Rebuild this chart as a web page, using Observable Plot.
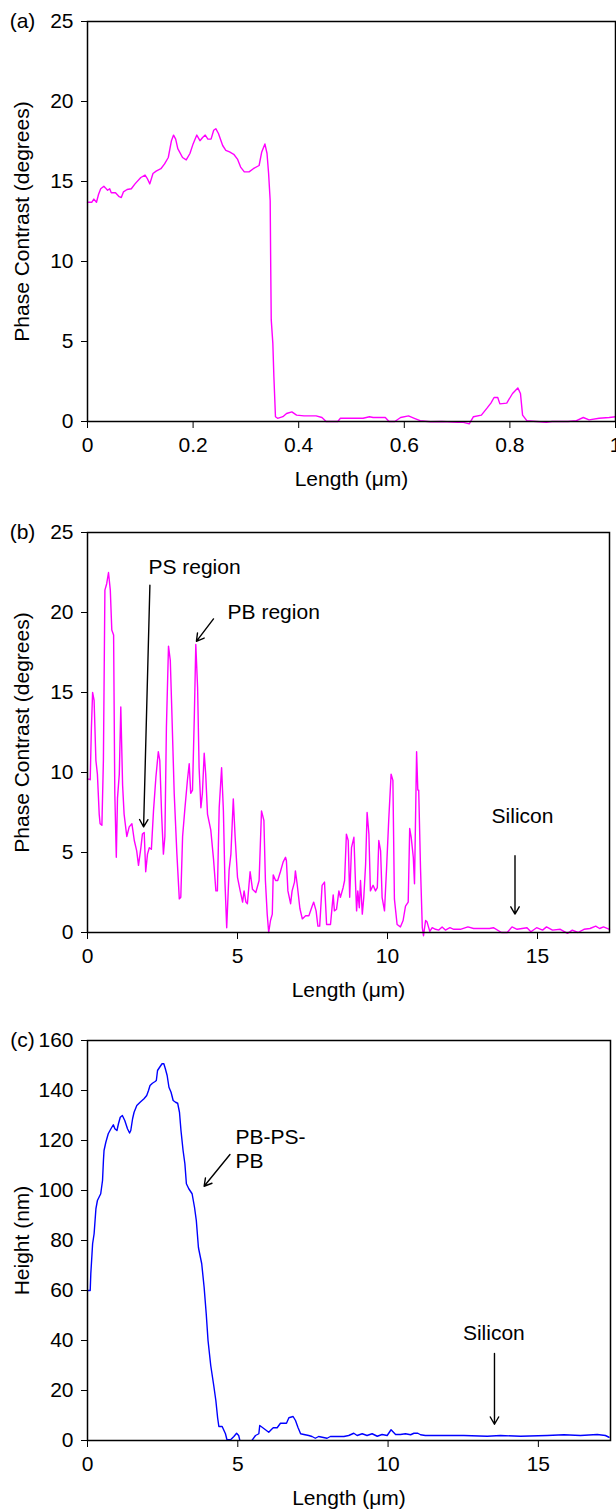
<!DOCTYPE html>
<html><head><meta charset="utf-8">
<script src="https://cdn.jsdelivr.net/npm/d3@7"></script>
<script src="https://cdn.jsdelivr.net/npm/@observablehq/plot@0.6"></script>
<style>body{margin:0;background:#fff} #fig svg{display:block}</style>
</head><body><div id="fig"></div>
<script>
// ---------- Panel (a): phase contrast vs length ----------
const aLength = [0,0.008,0.012,0.017,0.021,0.025,0.031,0.034,0.038,0.042,0.045,0.053,0.06,0.064,0.068,0.075,0.083,0.09,0.101,0.109,0.113,0.118,0.124,0.13,0.139,0.146,0.153,0.159,0.163,0.167,0.171,0.18,0.187,0.194,0.2,0.207,0.213,0.218,0.223,0.228,0.234,0.239,0.243,0.248,0.256,0.262,0.269,0.277,0.284,0.29,0.297,0.306,0.314,0.325,0.33,0.336,0.34,0.343,0.346,0.347,0.348,0.351,0.353,0.356,0.36,0.37,0.377,0.387,0.396,0.41,0.433,0.444,0.452,0.474,0.479,0.522,0.534,0.541,0.564,0.571,0.582,0.593,0.608,0.619,0.63,0.649,0.671,0.701,0.712,0.723,0.731,0.746,0.757,0.764,0.77,0.777,0.781,0.794,0.805,0.815,0.82,0.824,0.832,0.85,0.869,0.88,0.91,0.926,0.939,0.95,0.969,0.988,1.0];
const aPhase = [13.7,13.7,13.9,13.7,14.2,14.55,14.7,14.6,14.45,14.55,14.3,14.3,14.05,14.0,14.35,14.5,14.55,14.85,15.25,15.4,15.2,14.85,15.5,15.65,15.8,16.1,16.5,17.55,17.9,17.65,17.05,16.5,16.35,16.75,17.35,17.9,17.55,17.75,17.9,17.65,17.65,18.2,18.3,18.0,17.25,16.95,16.85,16.7,16.4,15.9,15.6,15.6,15.8,16.0,16.85,17.35,16.75,15.5,13.8,9.7,6.35,4.9,2.8,0.3,0.2,0.3,0.5,0.6,0.4,0.35,0.35,0.25,0.0,0.0,0.2,0.2,0.3,0.25,0.25,0.0,0.0,0.25,0.35,0.2,0.05,-0.02,0,-0.05,-0.05,-0.15,0.3,0.4,0.85,1.15,1.5,1.5,1.1,1.15,1.75,2.1,1.75,0.4,0.05,0,-0.05,0,0,0.05,0.25,0.1,0.2,0.25,0.3];
const aTicksX = [0,0.2,0.4,0.6,0.8,1];
const aTicksY = [0,5,10,15,20,25];

// ---------- Panel (b): phase contrast vs length ----------
const bLength = [0,0.09,0.13,0.17,0.22,0.28,0.33,0.39,0.42,0.48,0.53,0.58,0.64,0.7,0.76,0.81,0.87,0.91,0.96,1.0,1.06,1.11,1.17,1.22,1.31,1.39,1.48,1.56,1.64,1.7,1.78,1.83,1.89,1.94,2.0,2.06,2.13,2.2,2.28,2.36,2.41,2.47,2.53,2.58,2.63,2.7,2.76,2.81,2.89,2.98,3.06,3.11,3.17,3.24,3.33,3.39,3.44,3.5,3.56,3.61,3.67,3.72,3.78,3.83,3.89,3.94,4.0,4.11,4.2,4.28,4.33,4.39,4.47,4.53,4.58,4.64,4.72,4.78,4.86,4.92,5.0,5.09,5.17,5.22,5.28,5.33,5.42,5.5,5.61,5.72,5.8,5.88,5.93,5.99,6.04,6.1,6.16,6.19,6.27,6.34,6.43,6.52,6.6,6.63,6.68,6.77,6.82,6.9,6.93,6.99,7.08,7.16,7.27,7.38,7.49,7.54,7.62,7.68,7.74,7.82,7.9,7.97,8.1,8.19,8.23,8.3,8.38,8.43,8.52,8.57,8.63,8.69,8.74,8.8,8.88,8.93,8.97,9.01,9.06,9.1,9.16,9.21,9.27,9.32,9.38,9.43,9.52,9.6,9.66,9.71,9.77,9.82,9.9,9.97,10.04,10.12,10.18,10.23,10.32,10.43,10.52,10.6,10.69,10.74,10.79,10.86,10.9,10.97,11.01,11.04,11.1,11.16,11.2,11.27,11.32,11.41,11.49,11.6,11.71,11.82,11.93,12.08,12.21,12.43,12.68,12.87,13.4,13.53,13.8,13.99,14.15,14.32,14.65,14.78,14.97,15.17,15.3,15.5,15.76,16.0,16.16,16.35,16.55,16.75,16.94,17.07,17.2,17.4];
const bPhase = [9.6,9.55,12.8,15.0,14.5,10.75,9.9,7.4,6.8,6.7,10.75,21.4,21.8,22.5,21.4,18.9,18.6,8.7,4.7,8.4,9.9,14.1,9.2,7.4,6.0,6.6,6.8,5.75,5.1,4.2,5.3,6.15,6.25,3.8,4.9,5.3,5.2,7.6,9.7,11.3,10.75,7.4,4.9,6.0,12.8,17.9,17.0,13.9,8.7,4.9,2.1,2.2,6.0,7.6,9.5,10.55,8.7,8.9,13.45,18.0,15.3,10.3,7.8,8.7,11.2,9.9,7.4,6.4,4.6,2.6,2.6,7.8,10.3,7.6,3.25,0.3,3.9,4.9,8.35,6.0,3.45,2.6,1.9,2.6,1.9,1.8,3.8,2.7,2.5,3.25,7.6,7.0,3.25,1.15,0,0.75,1.15,3.6,3.25,3.25,3.8,4.4,4.7,4.5,2.6,1.8,2.6,3.15,3.85,3.0,1.5,0.85,1.05,1.05,1.65,1.9,1.35,0.4,0.4,2.95,3.15,0.5,0.5,2.35,1.35,1.45,2.6,2.2,2.8,3.25,6.15,5.75,2.2,5.3,5.95,3.25,1.35,2.6,1.55,3.25,1.15,2.2,4.25,7.5,6.15,2.6,2.95,2.6,2.8,5.75,5.1,2.2,1.35,4.05,7.0,9.9,9.5,2.1,0.5,0.35,0.75,1.65,1.9,6.5,5.95,4.7,3.05,11.3,8.9,8.9,4.05,0.3,-0.2,0.75,0.65,0.07,0.3,0.2,0.15,0.35,0.15,0.3,0.2,0.2,0.35,0.25,0.25,0.3,0,0,0.35,0.2,0.3,0.05,0.3,0.15,0.35,0.15,0.2,-0.05,0.15,0,0.2,0.25,0.4,0.25,0.35,0.2];
const bTicksX = [0,5,10,15];
const bTicksY = [0,5,10,15,20,25];
const bNoteText = ["PS region","PB region","Silicon"];
const bNoteX = [2.03, 4.67, 13.47];
const bNoteY = [22.9, 20.1, 7.3];
const bArrowX1 = [2.08, 4.2, 14.25];
const bArrowY1 = [21.7, 19.6, 4.8];
const bArrowX2 = [1.87, 3.63, 14.25];
const bArrowY2 = [6.6, 18.2, 1.15];

// ---------- Panel (c): height vs length ----------
const cLength = [0,0.09,0.11,0.17,0.22,0.28,0.33,0.44,0.5,0.53,0.55,0.61,0.69,0.78,0.86,0.91,0.98,1.03,1.09,1.16,1.24,1.33,1.4,1.44,1.5,1.55,1.64,1.75,1.88,1.97,2.03,2.08,2.16,2.25,2.29,2.33,2.4,2.48,2.54,2.59,2.65,2.71,2.78,2.85,2.93,3.0,3.06,3.11,3.18,3.24,3.29,3.37,3.48,3.56,3.62,3.69,3.71,3.8,3.88,3.95,4.01,4.1,4.2,4.27,4.33,4.37,4.48,4.59,4.64,4.76,4.87,4.96,5.03,5.07,5.12,5.43,5.47,5.59,5.7,5.73,5.81,5.92,6.03,6.11,6.18,6.31,6.42,6.62,6.7,6.84,6.92,7.0,7.09,7.2,7.36,7.47,7.58,7.69,7.81,7.97,8.08,8.31,8.53,8.69,8.86,8.97,9.14,9.3,9.47,9.64,9.8,9.97,10.1,10.25,10.41,10.58,10.75,10.86,10.99,11.08,11.24,11.35,12.52,13.3,13.74,14.41,15.29,15.85,16.4,16.96,17.23,17.35];
const cHeight = [60,60,66.7,78.7,82.7,92.7,96,98.7,104,112,116,119.3,122.7,124.7,126.3,124.7,124,126.7,129.3,130,128,124.7,123,124,128.7,131.3,134,135.3,136.7,138,140,142,142.9,143.6,144,148,149.3,150.7,150.7,148.7,146,141.3,139.3,136,135.3,134.9,131.3,124,116,110.7,102.7,100.7,98.7,93.3,88,77.3,76,70.7,61.3,50.7,40,30,22,16,9,5.6,5.6,2.7,0.3,0.3,1.6,2.9,2.0,0,-3,-3,0,2,2.7,6,5.3,4.3,3.3,4.3,5.1,5.1,6.9,6.9,9.1,9.6,8,5.3,2.7,2.4,2,1.6,0.9,1.6,1.3,0.9,1.6,1.6,1.6,2,2.9,2,2.7,2,2.7,1.7,2.4,2,4.3,2.4,2.4,2.7,2.3,2.9,2.9,2.3,2,2,2,1.7,2,1.7,2,2.3,2,2.4,2,1.3];
const cTicksX = [0,5,10,15];
const cTicksY = [0,20,40,60,80,100,120,140,160];
const cNoteText = ["PB-PS-\nPB","Silicon"];
const cNoteX = [4.92, 12.49];
const cNoteY = [117, 43.2];
const cArrowX1 = [4.74, 13.54];
const cArrowY1 = [114.4, 34.8];
const cArrowX2 = [3.88, 13.54];
const cArrowY2 = [101.7, 6.5];

const FONT = "'Liberation Sans', Arial, Helvetica, sans-serif";

function panel(p) {
  const table = p.len.map((x, i) => ({x, y: p.val[i]}));
  const notes = (p.noteText || []).map((t, i) => ({t, x: p.noteX[i], y: p.noteY[i]}));
  const arrows = (p.ax1 || []).map((_, i) => ({x1: p.ax1[i], y1: p.ay1[i], x2: p.ax2[i], y2: p.ay2[i]}));
  return Plot.plot({
    width: 616,
    height: p.height,
    marginTop: p.mt,
    marginBottom: p.mb,
    marginLeft: 87,
    marginRight: p.mr,
    style: {fontFamily: FONT, fontSize: "21px", color: "#000", background: "#fff", overflow: "visible"},
    x: {domain: p.xDomain},
    y: {domain: p.yDomain},
    marks: [
      Plot.line(table, {x: "x", y: "y", stroke: p.color, strokeWidth: 1.4, clip: p.clip}),
      Plot.frame({stroke: "#000", strokeWidth: 1.5}),
      Plot.axisY({ticks: p.yTicks, tickFormat: d => String(d), tickSize: 6, tickPadding: 8, label: null}),
      Plot.axisX({ticks: p.xTicks, tickFormat: d => String(d), tickSize: 7, tickPadding: 9, label: null}),
      Plot.text([p.tag], {frameAnchor: "top-left", dx: -65, textAnchor: "middle", lineAnchor: "middle"}),
      Plot.text([p.ylabel], {frameAnchor: "left", dx: -65, rotate: -90, textAnchor: "middle", lineAnchor: "middle"}),
      Plot.text(["Length (\u03bcm)"], {frameAnchor: "bottom", dy: 58, textAnchor: "middle", lineAnchor: "middle"}),
      Plot.text(notes, {x: "x", y: "y", text: "t", textAnchor: "start", lineHeight: 1.15}),
      Plot.arrow(arrows, {x1: "x1", y1: "y1", x2: "x2", y2: "y2", stroke: "#000", strokeWidth: 1.4, headLength: 9})
    ]
  });
}

const fig = document.getElementById("fig");
fig.append(panel({len: aLength, val: aPhase, color: "#ff00ff", xDomain: [0, 1], yDomain: [0, 25],
  xTicks: aTicksX, yTicks: aTicksY, height: 500, mt: 21, mb: 79, mr: 1, tag: "(a)",
  ylabel: "Phase Contrast (degrees)", clip: false}));
fig.append(panel({len: bLength, val: bPhase, color: "#ff00ff", xDomain: [0, 17.4], yDomain: [0, 25],
  xTicks: bTicksX, yTicks: bTicksY, height: 500, mt: 32, mb: 68, mr: 7, tag: "(b)",
  ylabel: "Phase Contrast (degrees)", clip: false,
  noteText: bNoteText, noteX: bNoteX, noteY: bNoteY, ax1: bArrowX1, ay1: bArrowY1, ax2: bArrowX2, ay2: bArrowY2}));
fig.append(panel({len: cLength, val: cHeight, color: "#0000ff", xDomain: [0, 17.4], yDomain: [0, 160],
  xTicks: cTicksX, yTicks: cTicksY, height: 511, mt: 40, mb: 71, mr: 6, tag: "(c)",
  ylabel: "Height (nm)", clip: true,
  noteText: cNoteText, noteX: cNoteX, noteY: cNoteY, ax1: cArrowX1, ay1: cArrowY1, ax2: cArrowX2, ay2: cArrowY2}));
</script></body></html>
